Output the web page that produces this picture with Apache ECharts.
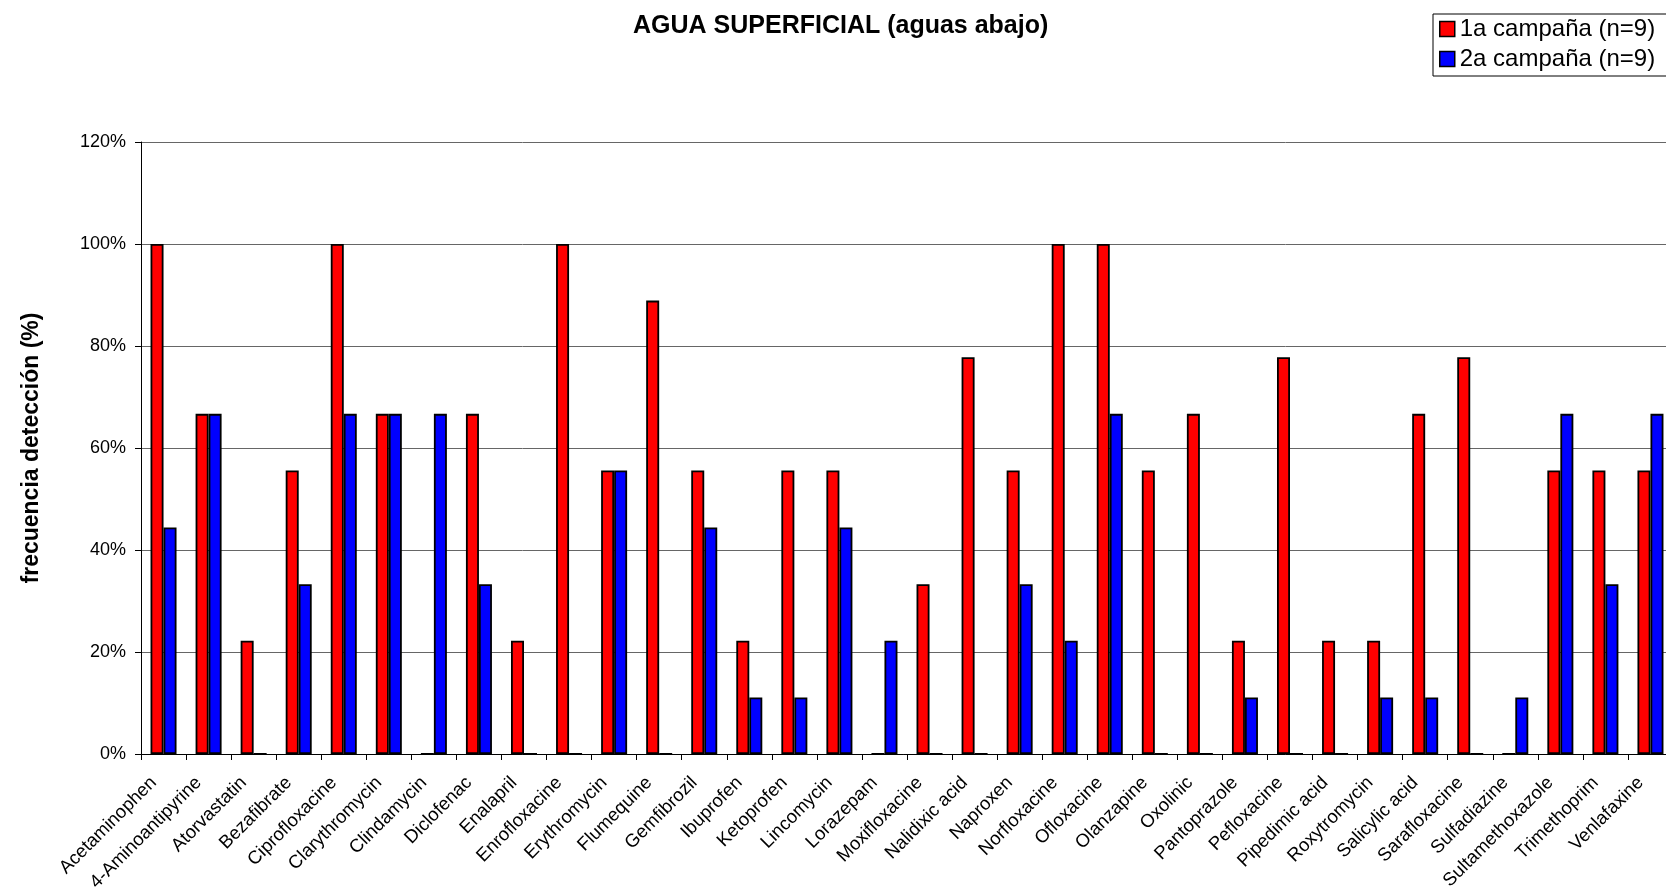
<!DOCTYPE html>
<html>
<head>
<meta charset="utf-8">
<title>AGUA SUPERFICIAL (aguas abajo)</title>
<script src="https://cdn.jsdelivr.net/npm/echarts@6/dist/echarts.min.js"></script>
<style>
  html, body { margin: 0; padding: 0; background: #fff; }
  #chart { width: 1666px; height: 893px; }
</style>
</head>
<body>
<div id="chart"></div>
<script>
// compuestos analizados
const compounds = [
  'Acetaminophen', '4-Aminoantipyrine', 'Atorvastatin', 'Bezafibrate', 'Ciprofloxacine',
  'Clarythromycin', 'Clindamycin', 'Diclofenac', 'Enalapril', 'Enrofloxacine',
  'Erythromycin', 'Flumequine', 'Gemfibrozil', 'Ibuprofen', 'Ketoprofen',
  'Lincomycin', 'Lorazepam', 'Moxifloxacine', 'Nalidixic acid', 'Naproxen',
  'Norfloxacine', 'Ofloxacine', 'Olanzapine', 'Oxolinic', 'Pantoprazole',
  'Pefloxacine', 'Pipedimic acid', 'Roxytromycin', 'Salicylic acid', 'Sarafloxacine',
  'Sulfadiazine', 'Sultamethoxazole', 'Trimethoprim', 'Venlafaxine'
]

// frecuencia de deteccion (%), n=9
const campaign1 = [
  100, 66.7, 22.2, 55.6, 100,
  66.7, 0, 66.7, 22.2, 100,
  55.6, 88.9, 55.6, 22.2, 55.6,
  55.6, 0, 33.3, 77.8, 55.6,
  100, 100, 55.6, 66.7, 22.2,
  77.8, 22.2, 22.2, 66.7, 77.8,
  0, 55.6, 55.6, 55.6
]
const campaign2 = [
  44.4, 66.7, 0, 33.3, 66.7,
  66.7, 66.7, 33.3, 0, 0,
  55.6, 0, 44.4, 11.1, 11.1,
  44.4, 22.2, 0, 0, 33.3,
  22.2, 66.7, 0, 0, 11.1,
  0, 0, 11.1, 11.1, 0,
  11.1, 66.7, 33.3, 66.7
]

const seriesNames = ['1a campaña (n=9)', '2a campaña (n=9)']
const yTicks = [0, 20, 40, 60, 80, 100, 120]

const font = '"Liberation Sans", Arial, sans-serif'

const myChart = echarts.init(document.getElementById('chart'))

const option = {
  animation: false,
  textStyle: { fontFamily: font, color: '#000' },
  title: {
    text: 'AGUA SUPERFICIAL (aguas abajo)',
    left: 628,
    top: 9,
    textStyle: { fontFamily: font, fontSize: 25, fontWeight: 'bold', color: '#000' }
  },
  legend: {
    data: seriesNames,
    orient: 'vertical',
    left: 1433,
    top: 14,
    padding: [3, 30, 5, 6],
    itemGap: 6,
    itemWidth: 15,
    itemHeight: 15,
    borderColor: '#000',
    borderWidth: 1,
    icon: 'rect',
    itemStyle: { borderColor: '#000', borderWidth: 1.5 },
    textStyle: { fontFamily: font, fontSize: 24, color: '#000' }
  },
  grid: {
    left: 141,
    top: 142,
    width: 1532,
    height: 612,
    outerBoundsMode: 'none'
  },
  xAxis: {
    type: 'category',
    data: compounds,
    axisLine: { lineStyle: { color: '#000', width: 1 } },
    axisTick: { show: true, length: 6, lineStyle: { color: '#000' } },
    axisLabel: {
      rotate: 45,
      interval: 0,
      margin: 16,
      padding: [0, 14, 0, 0],
      fontFamily: font,
      fontSize: 18.5,
      color: '#000'
    }
  },
  yAxis: {
    type: 'value',
    min: yTicks[0],
    max: yTicks[yTicks.length - 1],
    interval: 20,
    name: 'frecuencia detección (%)',
    nameLocation: 'middle',
    nameGap: 98,
    nameTextStyle: { fontFamily: font, fontSize: 23, fontWeight: 'bold', color: '#000' },
    axisLine: { show: true, lineStyle: { color: '#000', width: 1 } },
    axisTick: { show: true, length: 6, lineStyle: { color: '#000' } },
    axisLabel: {
      formatter: '{value}%',
      margin: 15,
      fontFamily: font,
      fontSize: 18,
      color: '#000'
    },
    splitLine: { lineStyle: { color: '#666', width: 1 } }
  },
  series: [
    {
      name: seriesNames[0],
      type: 'bar',
      data: campaign1,
      barWidth: 13,
      barGap: '0%',
      itemStyle: { color: '#ff0000', borderColor: '#000', borderWidth: 1.8 }
    },
    {
      name: seriesNames[1],
      type: 'bar',
      data: campaign2,
      barWidth: 13,
      barGap: '0%',
      itemStyle: { color: '#0000ff', borderColor: '#000', borderWidth: 1.8 }
    }
  ]
}

myChart.setOption(option)
</script>
</body>
</html>
